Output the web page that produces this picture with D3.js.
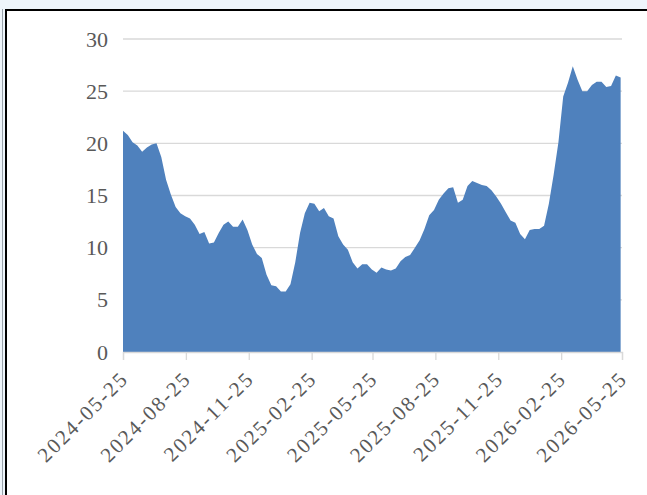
<!DOCTYPE html>
<html>
<head>
<meta charset="utf-8">
<script src="https://cdn.jsdelivr.net/npm/d3@7"></script>
<style>
  html, body { margin: 0; padding: 0; background: #eef5fb; }
  svg { display: block; }
</style>
</head>
<body>
<svg id="chart" width="647" height="495"></svg>
<script>
// weekly series, starting 2024-05-25
var startDate = "2024-05-25";
var values = [
  21.2, 20.8, 20.1, 19.8, 19.2, 19.6, 19.9, 20.0, 18.7, 16.5,
  15.1, 13.9, 13.3, 13.0, 12.8, 12.2, 11.3, 11.5, 10.4, 10.5,
  11.4, 12.2, 12.5, 12.0, 12.0, 12.7, 11.7, 10.3, 9.4, 9.0,
  7.4, 6.4, 6.3, 5.8, 5.8, 6.5, 8.6, 11.4, 13.3, 14.3,
  14.2, 13.5, 13.8, 13.0, 12.8, 11.1, 10.3, 9.8, 8.6, 8.0,
  8.4, 8.4, 7.9, 7.6, 8.1, 7.9, 7.8, 8.0, 8.7, 9.1,
  9.3, 10.0, 10.7, 11.8, 13.1, 13.6, 14.6, 15.2, 15.7, 15.8,
  14.3, 14.6, 15.9, 16.4, 16.2, 16.0, 15.9, 15.5, 14.9, 14.2,
  13.4, 12.6, 12.4, 11.3, 10.8, 11.7, 11.8, 11.8, 12.1, 14.2,
  17.0, 20.1, 24.5, 25.8, 27.4, 26.1, 25.0, 25.0, 25.6, 25.9,
  25.9, 25.4, 25.5, 26.5, 26.3
];
var tickLabels = ["2024-05-25", "2024-08-25", "2024-11-25", "2025-02-25", "2025-05-25",
                  "2025-08-25", "2025-11-25", "2026-02-25", "2026-05-25"];
var yTicks = [0, 5, 10, 15, 20, 25, 30];

var parse = d3.timeParse("%Y-%m-%d");
var start = parse(startDate);
var data = values.map(function (v, i) {
    return { date: d3.timeDay.offset(start, i * 7), value: v };
});

var svg = d3.select("#chart");

// frame
svg.append("rect").attr("x", 0).attr("y", 0).attr("width", 647).attr("height", 495).attr("fill", "#eef5fb");
svg.append("line").attr("x1", 2.5).attr("x2", 2.5).attr("y1", 9).attr("y2", 495)
    .attr("stroke", "#9aa3ab").attr("stroke-width", 1);
svg.append("rect").attr("x", 6).attr("y", 10).attr("width", 660).attr("height", 500)
    .attr("fill", "#ffffff").attr("stroke", "#000").attr("stroke-width", 2);

var plotLeft = 123, plotRight = 622, plotTop = 39, plotBottom = 352;

var x = d3.scaleTime()
    .domain([parse(tickLabels[0]), parse(tickLabels[tickLabels.length - 1])])
    .range([plotLeft, plotRight]);
var y = d3.scaleLinear().domain([0, 30]).range([plotBottom, plotTop]);

// gridlines
svg.append("g").selectAll("line").data(yTicks.slice(1)).join("line")
    .attr("x1", plotLeft).attr("x2", plotRight)
    .attr("y1", function (d) { return y(d); }).attr("y2", function (d) { return y(d); })
    .attr("stroke", "#d9d9d9").attr("stroke-width", 1.3);

// area
var area = d3.area()
    .x(function (d) { return x(d.date); })
    .y0(y(0))
    .y1(function (d) { return y(d.value); });
svg.append("path").datum(data).attr("d", area).attr("fill", "#4f81bd");

// y axis labels
var yAxis = d3.axisLeft(y).tickValues(yTicks).tickSize(0).tickPadding(15);
var gy = svg.append("g").attr("transform", "translate(" + plotLeft + ",0)").call(yAxis);
gy.select(".domain").remove();
gy.selectAll("text")
    .attr("font-family", "'Liberation Serif', 'DejaVu Serif', serif")
    .attr("font-size", 22).attr("fill", "#595959");

// x axis
var xAxis = d3.axisBottom(x)
    .tickValues(tickLabels.map(parse))
    .tickSize(8)
    .tickFormat(d3.timeFormat("%Y-%m-%d"));
var gx = svg.append("g").attr("transform", "translate(0," + plotBottom + ")").call(xAxis);
gx.select(".domain").attr("stroke", "#d9d9d9").attr("stroke-width", 1.3);
gx.selectAll(".tick line").attr("stroke", "#d9d9d9").attr("stroke-width", 1.3);
gx.selectAll("text")
    .attr("font-family", "'Liberation Serif', 'DejaVu Serif', serif")
    .attr("font-size", 21).attr("fill", "#595959")
    .attr("letter-spacing", 2)
    .attr("text-anchor", "end")
    .attr("dy", "0.35em")
    .attr("transform", "translate(-7,15) rotate(-45)");
</script>
</body>
</html>
